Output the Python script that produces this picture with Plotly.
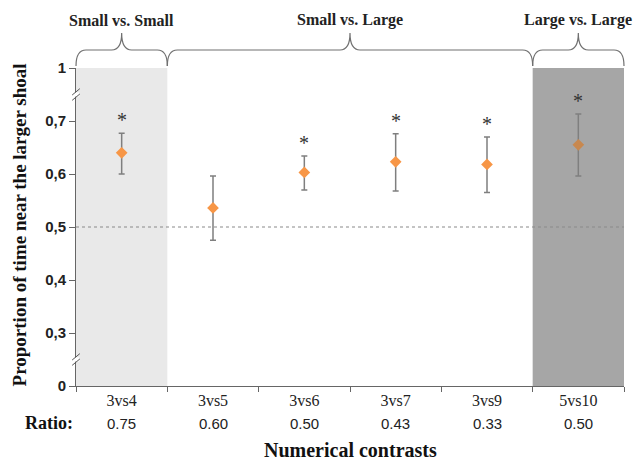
import plotly.graph_objects as go

categories = ["3vs4", "3vs5", "3vs6", "3vs7", "3vs9", "5vs10"]
ratios = ["0.75", "0.60", "0.50", "0.43", "0.33", "0.50"]
means = [0.640, 0.536, 0.603, 0.623, 0.618, 0.655]
upper = [0.677, 0.596, 0.634, 0.676, 0.670, 0.713]
lower = [0.600, 0.475, 0.570, 0.568, 0.565, 0.596]
significant = [True, False, True, True, True, True]
y_tickvals = [0.2, 0.3, 0.4, 0.5, 0.6, 0.7, 0.8]
y_ticktext = ["0", "0,3", "0,4", "0,5", "0,6", "0,7", "1"]
chance_level = 0.5
groups = [("Small vs. Small", 0, 0), ("Small vs. Large", 1, 4), ("Large vs. Large", 5, 5)]
axis_breaks = [0.75, 0.25]

xs = list(range(len(categories)))
n = len(categories)
SERIF = "Liberation Serif"
SANS = "Liberation Sans"

marker_colors = ["#f79646"] * (n - 1) + ["#c8884f"]

fig = go.Figure()
fig.add_trace(go.Scatter(
    x=xs, y=means, mode="markers",
    marker=dict(symbol="diamond", size=9, color=marker_colors),
    error_y=dict(type="data", symmetric=False,
                 array=[u - m for u, m in zip(upper, means)],
                 arrayminus=[m - l for m, l in zip(means, lower)],
                 color="#7f7f7f", thickness=1.5, width=3),
    showlegend=False, hoverinfo="skip",
))

shapes = []
shapes.append(dict(type="rect", xref="x", yref="y", x0=-0.5, x1=0.5, y0=0.2, y1=0.8,
                   fillcolor="#e9e9e9", line=dict(width=0), layer="below"))
shapes.append(dict(type="rect", xref="x", yref="y", x0=n - 1.5, x1=n - 0.5, y0=0.2, y1=0.8,
                   fillcolor="#a6a6a6", line=dict(width=0), layer="below"))
shapes.append(dict(type="line", xref="paper", yref="y", x0=0, x1=1, y0=chance_level, y1=chance_level,
                   line=dict(color="#8a8a8a", width=1.2, dash="dot")))


def xp(v):
    return (v + 0.5) / n


plot_h = 318.0
y_low = 1.0 + 2 / plot_h
y_mid = 1.0 + 18 / plot_h
y_tip = 1.0 + 35 / plot_h
r = 10 / 548.0
for label, i0, i1 in groups:
    a = xp(i0 - 0.5)
    b = xp(i1 + 0.5)
    m = (a + b) / 2
    path = (f"M {a},{y_low} Q {a},{y_mid} {a + r},{y_mid} L {m - r},{y_mid} "
            f"Q {m},{y_mid} {m},{y_tip} Q {m},{y_mid} {m + r},{y_mid} "
            f"L {b - r},{y_mid} Q {b},{y_mid} {b},{y_low}")
    shapes.append(dict(type="path", xref="paper", yref="paper", path=path,
                       line=dict(color="#707070", width=1.2)))

for bv in axis_breaks:
    shapes.append(dict(type="rect", xref="paper", yref="y", x0=-0.006, x1=0.006,
                       y0=bv - 0.004, y1=bv + 0.004, fillcolor="white", line=dict(width=0)))
    for off in (-0.005, 0.005):
        shapes.append(dict(type="line", xref="paper", yref="y", x0=-0.007, x1=0.007,
                           y0=bv + off - 0.006, y1=bv + off + 0.006,
                           line=dict(color="#555555", width=1)))

annotations = []
for i, s in enumerate(significant):
    if s:
        annotations.append(dict(x=xs[i], y=upper[i], xref="x", yref="y", text="*",
                                showarrow=False, yanchor="bottom", yshift=0,
                                font=dict(family=SERIF, size=20, color="#333333")))
for i, rt in enumerate(ratios):
    annotations.append(dict(x=xs[i], y=0, xref="x", yref="paper", text=rt, showarrow=False,
                            yanchor="middle", yshift=-37,
                            font=dict(family=SANS, size=15, color="#222222")))
annotations.append(dict(x=0, y=0, xref="paper", yref="paper", text="<b>Ratio:</b>", showarrow=False,
                        xanchor="center", yanchor="middle", xshift=-27, yshift=-37,
                        font=dict(family=SERIF, size=18, color="#111111")))
annotations.append(dict(x=0.5, y=0, xref="paper", yref="paper", text="<b>Numerical contrasts</b>",
                        showarrow=False, yanchor="middle", yshift=-64,
                        font=dict(family=SERIF, size=20, color="#111111")))
annotations.append(dict(x=0, y=0.505, xref="paper", yref="paper",
                        text="<b>Proportion of time near the larger shoal</b>", showarrow=False,
                        textangle=-90, xanchor="center", yanchor="middle", xshift=-57,
                        font=dict(family=SERIF, size=19, color="#111111")))
for label, i0, i1 in groups:
    annotations.append(dict(x=(i0 + i1) / 2, y=1, xref="x", yref="paper", text="<b>" + label + "</b>",
                            showarrow=False, yanchor="middle", yshift=48,
                            font=dict(family=SERIF, size=16, color="#222222")))

fig.update_layout(
    width=633, height=461,
    margin=dict(l=76, r=9, t=68, b=75),
    paper_bgcolor="white", plot_bgcolor="white",
    shapes=shapes, annotations=annotations,
    xaxis=dict(range=[-0.5, n - 0.5], tickvals=xs, ticktext=categories, ticks="", ticklen=0,
               showline=True, linecolor="#666666", linewidth=1, showgrid=False, zeroline=False,
               tickfont=dict(family=SERIF, size=16, color="#222222"),
               minor=dict(tickvals=[i - 0.5 for i in range(n + 1)], ticks="outside", ticklen=5,
                          tickcolor="#666666", showgrid=False)),
    yaxis=dict(range=[0.2, 0.8], tickvals=y_tickvals, ticktext=y_ticktext, ticks="outside",
               ticklen=6, tickcolor="#666666", showline=True, linecolor="#666666", linewidth=1,
               showgrid=False, zeroline=False,
               tickfont=dict(family=SANS, size=15, color="#222222", weight="bold")),
)

fig.write_html("out.html", config={"displayModeBar": False},
               post_script="document.body.style.margin='0px';document.body.style.overflow='hidden';")
